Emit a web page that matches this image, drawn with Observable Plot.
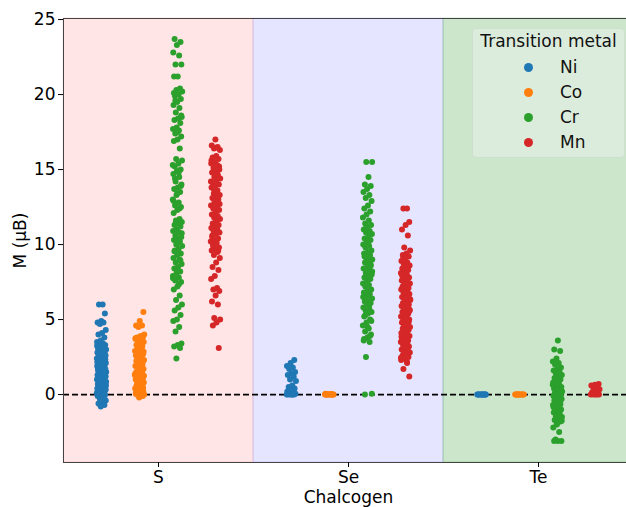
<!DOCTYPE html>
<html>
<head>
<meta charset="utf-8">
<script src="https://cdn.jsdelivr.net/npm/d3@7"></script>
<script src="https://cdn.jsdelivr.net/npm/@observablehq/plot@0.6"></script>
<style>
  html, body { margin: 0; padding: 0; background: white; }
  #wrap { position: relative; width: 626px; height: 507px; font-family: "DejaVu Sans", sans-serif; }
  #legend { position: absolute; left: 472px; top: 28px; width: 153px; height: 130px;
    background: #dcecdc; border: 1px solid #cddfcd; border-radius: 4px; box-sizing: border-box; }
  #legend .title { position: absolute; left: 0; width: 100%; top: 2px; text-align: center; font-size: 17px; color: #111; }
  #legend .item { position: absolute; left: 0; width: 100%; height: 20px; font-size: 17px; color: #111; }
  #legend .mk { position: absolute; left: 51px; top: 6px; width: 9px; height: 9px; border-radius: 50%; }
  #legend .lb { position: absolute; left: 87px; top: 0px; }
</style>
</head>
<body>
<div id="wrap"><div id="chart"></div><div id="legend"></div></div>
<script>
const chalcogens = ["S", "Se", "Te"];
const metals = ["Ni", "Co", "Cr", "Mn"];
const palette = ["#1f77b4", "#ff7f0e", "#2ca02c", "#d62728"];
const bandFills = ["red", "blue", "green"];
const bandOpacity = [0.1, 0.1, 0.2];
const yTicks = [0, 5, 10, 15, 20, 25];

// M (μB) values per chalcogen / metal
const S_Ni = [6.0, 6.0, 5.4, 4.9, 4.8, 4.8, 4.7, 4.3, 4.1, 4.0, 3.8, 3.6, 3.5, 3.4, 3.3, 3.3, 3.2, 3.1, 3.1, 3.0, 3.0, 2.9, 2.9, 2.8, 2.8, 2.8, 2.7, 2.7, 2.6, 2.6, 2.5, 2.5, 2.5, 2.4, 2.4, 2.3, 2.3, 2.2, 2.2, 2.2, 2.1, 2.1, 2.0, 2.0, 1.9, 1.9, 1.9, 1.8, 1.8, 1.7, 1.7, 1.6, 1.6, 1.6, 1.5, 1.5, 1.4, 1.4, 1.3, 1.3, 1.3, 1.2, 1.2, 1.1, 1.1, 1.0, 1.0, 1.0, 0.9, 0.9, 0.8, 0.8, 0.7, 0.7, 0.7, 0.6, 0.6, 0.5, 0.5, 0.4, 0.4, 0.4, 0.3, 0.3, 0.2, 0.2, 0.1, 0.1, 0.1, 0.0, 0.0, 0.0, -0.1, -0.1, -0.2, -0.3, -0.4, -0.5, -0.6, -0.7, -0.8,
  3.25, 2.95, 2.65, 2.35, 2.05, 1.75, 1.45, 1.15, 0.85, 0.55, 0.25, -0.05, 2.75, 2.15, 1.55, 0.95, 0.35, -0.35];
const S_Co = [5.5, 4.9, 4.6, 4.6, 4.5, 4.0, 3.9, 3.8, 3.8, 3.7, 3.7, 3.6, 3.6, 3.5, 3.4, 3.3, 3.2, 3.0, 2.9, 2.9, 2.8, 2.7, 2.7, 2.6, 2.5, 2.4, 2.3, 2.3, 2.2, 2.1, 2.0, 1.9, 1.8, 1.8, 1.7, 1.6, 1.5, 1.5, 1.4, 1.3, 1.3, 1.2, 1.1, 1.0, 1.0, 0.9, 0.8, 0.8, 0.7, 0.6, 0.5, 0.5, 0.4, 0.4, 0.3, 0.2, 0.2, 0.1, 0.1, 0.0, 0.0, 0.0, 0.0, -0.1, -0.2,
  3.75, 3.45, 3.15, 2.85, 2.55, 2.25, 1.95, 1.65, 1.35, 1.05, 0.75, 0.45, 0.15, 0.05, 3.55, 2.65, 1.25];
const S_Cr = [23.7, 23.5, 23.3, 22.8, 22.6, 22.0, 22.0, 21.2, 21.2, 20.4, 20.3, 20.2, 20.0, 19.9, 19.7, 19.5, 19.3, 19.1, 18.8, 18.5, 18.4, 18.3, 18.1, 17.8, 17.7, 17.6, 17.4, 17.2, 17.0, 16.9, 16.4, 15.7, 15.6, 15.4, 15.2, 15.0, 14.9, 14.7, 14.5, 14.2, 14.0, 13.8, 13.7, 13.5, 13.3, 13.0, 12.8, 12.6, 12.5, 12.3, 12.1, 11.7, 11.6, 11.5, 11.4, 11.3, 11.2, 11.0, 10.9, 10.8, 10.6, 10.5, 10.4, 10.3, 10.2, 10.0, 9.9, 9.7, 9.6, 9.4, 9.3, 9.1, 9.0, 8.8, 8.7, 8.5, 8.4, 8.2, 8.1, 7.9, 7.8, 7.6, 7.5, 7.2, 7.0, 6.6, 6.3, 6.0, 5.8, 5.6, 5.3, 5.0, 4.9, 4.5, 4.2, 3.4, 3.3, 3.2, 3.1, 2.4,
  15.3, 14.8, 14.4, 13.9, 13.4, 12.9, 12.4, 11.45, 10.75, 10.15, 9.55, 8.95, 8.35, 7.75, 7.35, 19.6, 18.6, 17.5, 20.1];
const S_Mn = [17.0, 16.6, 16.5, 16.4, 16.3, 15.9, 15.8, 15.7, 15.5, 15.4, 15.3, 15.1, 15.0, 14.9, 14.8, 14.6, 14.5, 14.4, 14.3, 14.1, 14.0, 13.9, 13.8, 13.6, 13.4, 13.3, 13.2, 13.1, 13.0, 12.8, 12.6, 12.5, 12.4, 12.3, 12.2, 12.0, 11.9, 11.8, 11.7, 11.6, 11.4, 11.3, 11.2, 11.1, 11.0, 10.9, 10.8, 10.7, 10.5, 10.4, 10.3, 10.2, 10.1, 9.9, 9.8, 9.7, 9.6, 9.5, 9.3, 9.1, 8.8, 8.5, 8.3, 7.9, 7.7, 7.1, 7.0, 6.9, 6.6, 6.2, 6.0, 5.1, 5.0, 4.8, 4.6, 3.1,
  16.45, 15.6, 14.7, 13.7, 12.7, 11.5, 10.6, 9.6, 12.9, 14.2, 11.85, 10.0, 15.2, 13.5];
const Se_Ni = [2.3, 2.1, 1.9, 1.8, 1.7, 1.5, 1.4, 1.3, 1.2, 1.0, 0.9, 0.6, 0.5, 0.4, 0.3, 0.2, 0.15, 0.1, 0.05, 0.0, 0.0, 0.0, 0.0, 0.0, 0.0];
const Se_Co = [0.05, 0.0, 0.0, 0.0, 0.02, 0.0, 0.0, 0.0, 0.0, 0.03, 0.0, 0.0, 0.0, 0.0, 0.0];
const Se_Cr = [15.5, 15.5, 14.5, 14.0, 13.9, 13.7, 13.5, 13.3, 13.1, 12.9, 12.6, 12.4, 12.2, 12.0, 11.8, 11.6, 11.4, 11.3, 11.2, 11.0, 10.9, 10.8, 10.7, 10.5, 10.4, 10.3, 10.2, 10.0, 9.9, 9.8, 9.6, 9.5, 9.4, 9.3, 9.1, 9.0, 8.9, 8.8, 8.6, 8.5, 8.4, 8.3, 8.1, 8.0, 7.9, 7.8, 7.7, 7.5, 7.4, 7.3, 7.2, 7.0, 6.9, 6.8, 6.7, 6.6, 6.4, 6.3, 6.2, 6.1, 6.0, 5.8, 5.7, 5.6, 5.5, 5.4, 5.2, 5.0, 4.8, 4.6, 4.4, 4.2, 4.0, 3.8, 3.6, 3.5, 2.5, 0.05,
  10.1, 9.2, 8.7, 7.6, 6.5, 5.9, 5.3, 4.9, 4.5, 3.7, 3.9, 11.1, 8.2, 6.95, 0.0];
const Se_Mn = [12.4, 12.4, 11.5, 11.3, 11.0, 10.6, 9.8, 9.6, 9.4, 9.3, 9.2, 9.0, 8.9, 8.8, 8.7, 8.6, 8.5, 8.4, 8.3, 8.2, 8.1, 8.0, 7.9, 7.8, 7.7, 7.6, 7.5, 7.5, 7.4, 7.3, 7.2, 7.1, 7.0, 7.0, 6.9, 6.8, 6.7, 6.6, 6.5, 6.5, 6.4, 6.3, 6.2, 6.1, 6.0, 6.0, 5.9, 5.8, 5.7, 5.6, 5.5, 5.5, 5.4, 5.3, 5.2, 5.1, 5.0, 5.0, 4.9, 4.8, 4.7, 4.6, 4.5, 4.5, 4.4, 4.3, 4.2, 4.1, 4.0, 4.0, 3.9, 3.8, 3.7, 3.6, 3.5, 3.5, 3.4, 3.3, 3.2, 3.1, 3.0, 3.0, 2.9, 2.8, 2.7, 2.6, 2.5, 2.4, 2.3, 2.1, 1.7, 1.2,
  8.45, 7.95, 7.35, 6.85, 6.35, 5.85, 5.35, 4.85, 4.35, 3.85, 3.35, 2.85, 5.65, 4.65, 3.65, 6.55, 7.15, 2.45, 2.2, 9.1];
const Te_Ni = [0.0, 0.0, 0.0, 0.0, 0.0, 0.0, 0.0, 0.0, 0.0, 0.0, 0.0, 0.0];
const Te_Co = [0.0, 0.0, 0.0, 0.0, 0.0, 0.0, 0.0, 0.0, 0.0, 0.0, 0.0, 0.0];
const Te_Cr = [3.6, 3.0, 2.9, 2.4, 2.2, 2.1, 2.0, 1.8, 1.7, 1.6, 1.5, 1.4, 1.3, 1.2, 1.1, 1.0, 0.9, 0.8, 0.7, 0.6, 0.5, 0.5, 0.4, 0.3, 0.3, 0.2, 0.1, 0.1, 0.0, 0.0, -0.1, -0.2, -0.2, -0.3, -0.4, -0.4, -0.5, -0.6, -0.7, -0.8, -0.9, -1.0, -1.1, -1.2, -1.3, -1.4, -1.5, -1.6, -1.7, -1.8, -2.0, -2.2, -2.5, -3.0, -3.1, -3.1, -3.1,
  1.25, 0.95, 0.65, 0.35, 0.05, -0.25, -0.55, -0.85, -1.15, -1.45, -1.75, 1.55, 0.75, -0.65, -1.9];
const Te_Mn = [0.7, 0.65, 0.6, 0.55, 0.4, 0.35, 0.2, 0.15, 0.1, 0.05, 0.0, 0.0, 0.0, 0.0, 0.0];

const groups = {
  S: {Ni: S_Ni, Co: S_Co, Cr: S_Cr, Mn: S_Mn},
  Se: {Ni: Se_Ni, Co: Se_Co, Cr: Se_Cr, Mn: Se_Mn},
  Te: {Ni: Te_Ni, Co: Te_Co, Cr: Te_Cr, Mn: Te_Mn}
};

// strip-plot layout: dodge by metal, small deterministic jitter
const rows = [];
chalcogens.forEach((c, ci) => {
  metals.forEach((m, mi) => {
    groups[c][m].forEach((v, i) => {
      const j = ((((i + 1) * 0.6180339887 + mi * 0.29 + ci * 0.17) % 1) - 0.5) * 0.05;
      rows.push({chalcogen: c, metal: m, v, x: ci + (mi - 1.5) * 0.2 + j});
    });
  });
});
const bands = chalcogens.map((c, i) => ({c, x1: i - 0.5, x2: i + 0.5, fill: bandFills[i], op: bandOpacity[i]}));

const yMin = -4.53, yMax = 25.07;
const chart = Plot.plot({
  width: 626, height: 507,
  marginLeft: 63, marginRight: 0, marginTop: 18, marginBottom: 45,
  style: {fontFamily: "DejaVu Sans, sans-serif", fontSize: "17px", background: "white", color: "black"},
  x: {domain: [-0.5, 2.5 - 7 / 190], axis: null},
  y: {domain: [yMin, yMax], axis: null},
  color: {domain: metals, range: palette},
  marks: [
    Plot.rect(bands, {x1: "x1", x2: "x2", fill: "fill", fillOpacity: "op", stroke: "fill", strokeOpacity: "op"}),
    Plot.ruleY([0], {stroke: "black", strokeWidth: 1.8, strokeDasharray: "6,3"}),
    Plot.dot(rows, {x: "x", y: "v", fill: "metal", r: 3}),
    Plot.ruleX([-0.5], {stroke: "#444", strokeWidth: 1}),
    Plot.ruleY([yMin], {stroke: "#444", strokeWidth: 1}),
    Plot.ruleY([yMax], {stroke: "#444", strokeWidth: 1}),
    Plot.axisY({ticks: yTicks, tickSize: 5, tickPadding: 3, fontSize: 17, label: null}),
    Plot.axisX({ticks: [0, 1, 2], tickFormat: i => chalcogens[i], tickSize: 5, tickPadding: 3, fontSize: 17, label: null}),
    Plot.text(["Chalcogen"], {frameAnchor: "bottom", lineAnchor: "middle", textAnchor: "middle", dy: 35, dx: 3.5, fontSize: 17, fill: "black"}),
    Plot.text(["M (μB)"], {frameAnchor: "left", lineAnchor: "middle", textAnchor: "middle", dx: -43, rotate: -90, fontSize: 17, fill: "black"})
  ]
});
document.getElementById("chart").appendChild(chart);

// legend
const lg = document.getElementById("legend");
const t = document.createElement("div");
t.className = "title"; t.textContent = "Transition metal";
lg.appendChild(t);
metals.forEach((m, i) => {
  const it = document.createElement("div");
  it.className = "item";
  it.style.top = (28 + i * 25) + "px";
  const mk = document.createElement("span");
  mk.className = "mk"; mk.style.background = palette[i];
  const lb = document.createElement("span");
  lb.className = "lb"; lb.textContent = m;
  it.appendChild(mk); it.appendChild(lb);
  lg.appendChild(it);
});
</script>
</body>
</html>
